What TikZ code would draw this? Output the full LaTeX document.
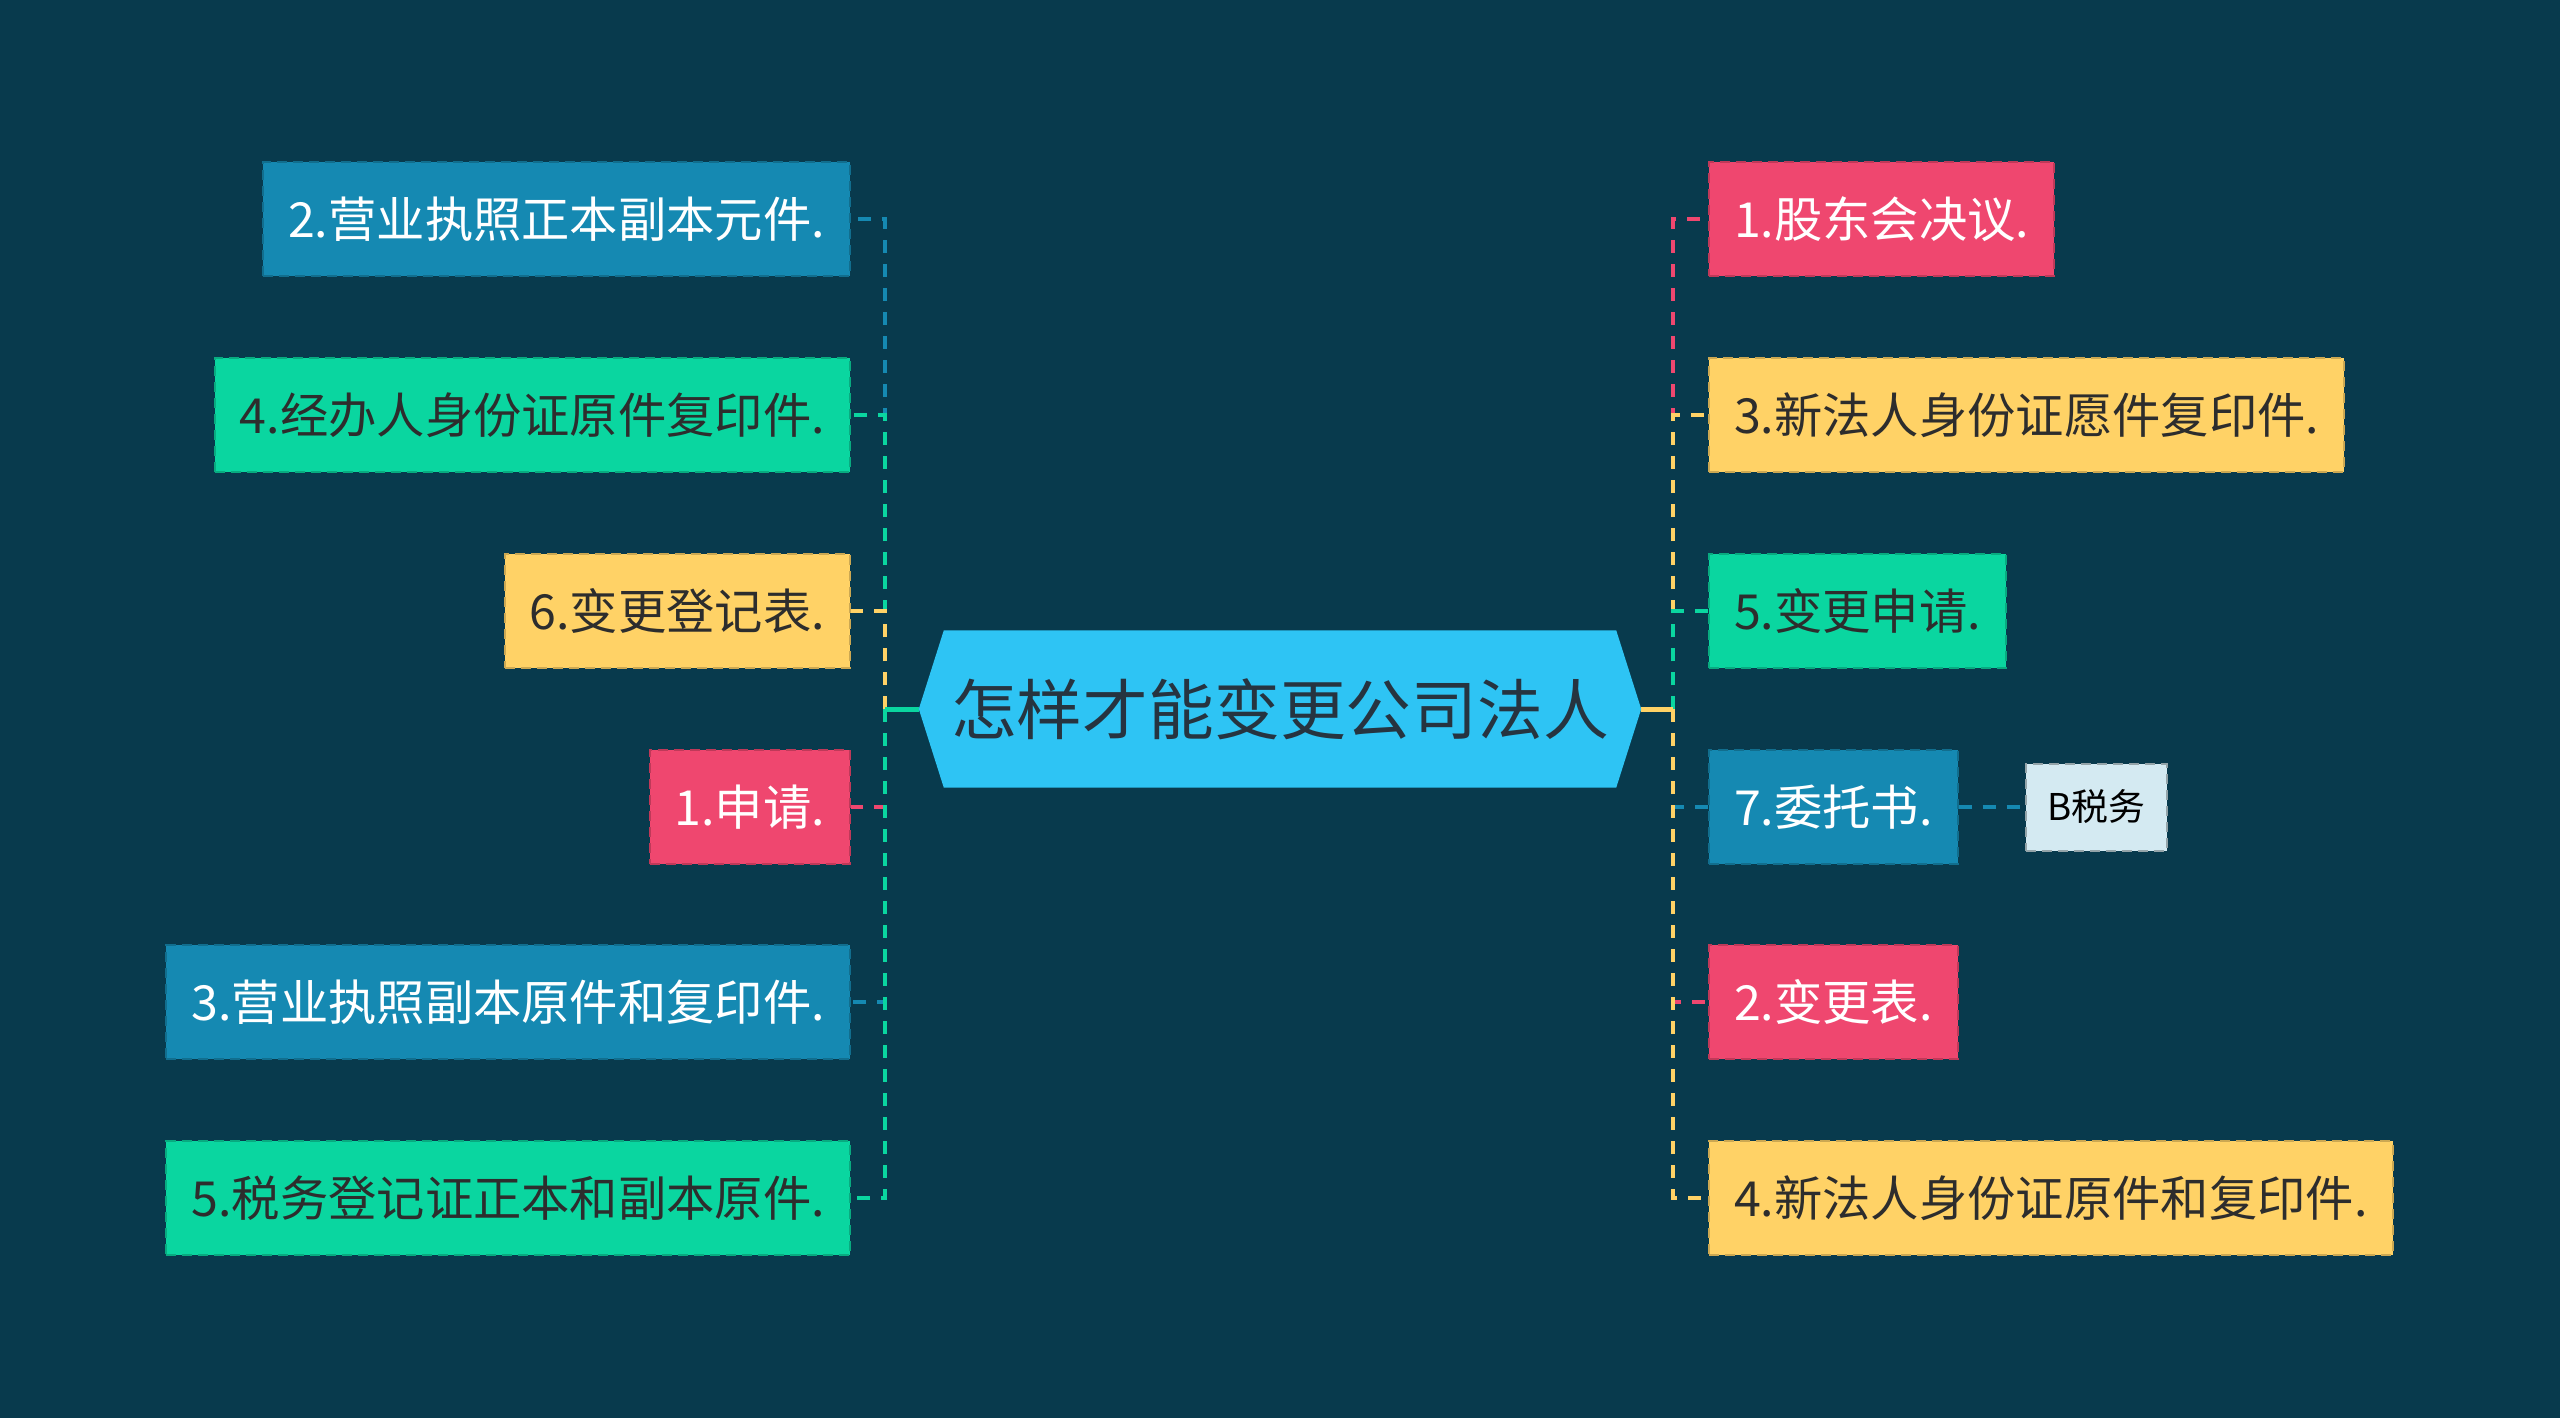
\documentclass[tikz,border=0pt]{standalone}
\usepackage{fontspec}
\setmainfont{Noto Sans CJK SC}
\usetikzlibrary{calc}
\definecolor{bgc}{RGB}{8,58,77}
\definecolor{cblue}{RGB}{21,137,178}
\definecolor{cgreen}{RGB}{10,214,160}
\definecolor{cyellow}{RGB}{255,210,102}
\definecolor{cred}{RGB}{239,71,111}
\definecolor{clight}{RGB}{212,234,242}
\definecolor{ccenter}{RGB}{46,196,244}
\definecolor{darktxt}{RGB}{45,45,45}
\definecolor{centertxt}{RGB}{38,52,64}
\pgfdeclarelayer{bglayer}
\pgfdeclarelayer{edgelayer}
\pgfsetlayers{bglayer,edgelayer,main}
\tikzset{
  box/.style={rectangle, minimum height=114bp, inner xsep=25bp, inner ysep=0bp,
    font=\fontsize{48.5}{52}\selectfont, line width=2bp, dash pattern=on 10bp off 6bp},
  bluebox/.style={box, fill=cblue, draw=cblue!80!black, text=white},
  greenbox/.style={box, fill=cgreen, draw=cgreen!80!black, text=darktxt},
  yellowbox/.style={box, fill=cyellow, draw=cyellow!80!black, text=darktxt},
  redbox/.style={box, fill=cred, draw=cred!80!black, text=white},
  subbox/.style={rectangle, minimum height=87bp, minimum width=141bp, inner sep=0bp,
    font=\fontsize{37}{40}\selectfont, fill=clight, draw=clight!70!black, text=black,
    line width=2bp, dash pattern=on 10bp off 6bp},
  conn/.style={line width=4bp, dash pattern=on 13bp off 11bp},
  stub/.style={line width=5bp}
}
\begin{document}
\begin{tikzpicture}[x=1bp,y=-1bp]
\begin{pgfonlayer}{bglayer}
\fill[bgc] (0,0) rectangle (2560,1418);
\end{pgfonlayer}
\useasboundingbox (0,0) rectangle (2560,1418);

% center node
\node[minimum width=722bp, minimum height=157bp, inner sep=0bp] (c) at (1280,709) {};
\fill[ccenter] (c.west) -- ($(c.north west)+(25,0)$) -- ($(c.north east)+(-25,0)$) -- (c.east)
  -- ($(c.south east)+(-25,0)$) -- ($(c.south west)+(25,0)$) -- cycle;
\node[text=centertxt, font=\fontsize{66}{70}\selectfont] (ct) at (c.center) {怎样才能变更公司法人};

% left nodes
\node[bluebox, anchor=east] (l1) at (851,219) {2.营业执照正本副本元件.};
\node[greenbox, anchor=east] (l2) at (851,415) {4.经办人身份证原件复印件.};
\node[yellowbox, anchor=east] (l3) at (851,611) {6.变更登记表.};
\node[redbox, anchor=east] (l4) at (851,807) {1.申请.};
\node[bluebox, anchor=east] (l5) at (851,1002) {3.营业执照副本原件和复印件.};
\node[greenbox, anchor=east] (l6) at (851,1198) {5.税务登记证正本和副本原件.};

% right nodes
\node[redbox, anchor=west] (r1) at (1708,219) {1.股东会决议.};
\node[yellowbox, anchor=west] (r2) at (1708,415) {3.新法人身份证愿件复印件.};
\node[greenbox, anchor=west] (r3) at (1708,611) {5.变更申请.};
\node[bluebox, anchor=west] (r4) at (1708,807) {7.委托书.};
\node[redbox, anchor=west] (r5) at (1708,1002) {2.变更表.};
\node[yellowbox, anchor=west] (r6) at (1708,1198) {4.新法人身份证原件和复印件.};

\node[subbox] (s1) at (2096,807) {B税务};

\coordinate (tl) at (885,709);
\coordinate (tr) at (1673,709);

\begin{pgfonlayer}{edgelayer}
\draw[conn, cblue] (tl) |- (l1.east);
\draw[conn, cgreen] (tl) |- (l2.east);
\draw[conn, cyellow] (tl) |- (l3.east);
\draw[conn, cred] (tl) |- (l4.east);
\draw[conn, cblue] (tl) |- (l5.east);
\draw[conn, cgreen] (tl) |- (l6.east);
\draw[stub, cgreen] (c.west) -- (tl);

\draw[conn, cred] (tr) |- (r1.west);
\draw[conn, cyellow] (tr) |- (r2.west);
\draw[conn, cgreen] (tr) |- (r3.west);
\draw[conn, cblue] (tr) |- (r4.west);
\draw[conn, cred] (tr) |- (r5.west);
\draw[conn, cyellow] (tr) |- (r6.west);
\draw[stub, cyellow] (c.east) -- (tr);

\draw[conn, cblue] (r4.east) -- (s1.west);
\end{pgfonlayer}
\end{tikzpicture}
\end{document}
